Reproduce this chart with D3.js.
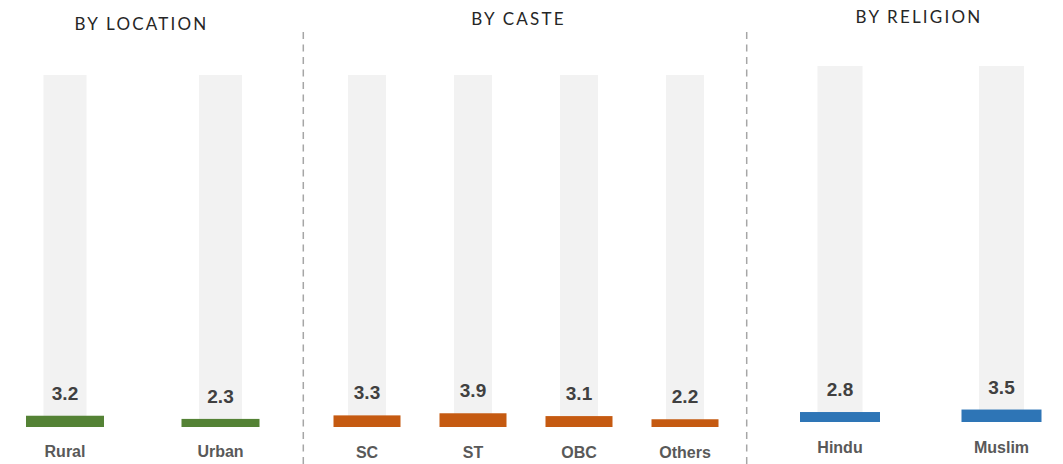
<!DOCTYPE html>
<html>
<head>
<meta charset="utf-8">
<script src="https://cdn.jsdelivr.net/npm/d3@7"></script>
<style>
  html, body { margin: 0; padding: 0; background: #fff; }
  svg { display: block; }
</style>
</head>
<body>
<svg id="chart" width="1063" height="464"></svg>
<script>
// ---- data ----
const locationCategories = ["Rural", "Urban"];
const locationValues = [3.2, 2.3];
const casteCategories = ["SC", "ST", "OBC", "Others"];
const casteValues = [3.3, 3.9, 3.1, 2.2];
const religionCategories = ["Hindu", "Muslim"];
const religionValues = [2.8, 3.5];
const panelTitles = ["BY LOCATION", "BY CASTE", "BY RELIGION"];
const maxValue = 100; // background bar (full scale)

const svg = d3.select("#chart");

const panels = [
  { title: panelTitles[0], cats: locationCategories, vals: locationValues, color: "#548235",
    xr: [65, 220.5], yr: [427, 75], bgW: 43, barW: 78, titleX: 141.5, titleY: 30, catY: 457 },
  { title: panelTitles[1], cats: casteCategories, vals: casteValues, color: "#c55a11",
    xr: [367, 685], yr: [427, 75], bgW: 38, barW: 67, titleX: 518.5, titleY: 25, catY: 458 },
  { title: panelTitles[2], cats: religionCategories, vals: religionValues, color: "#2e75b6",
    xr: [840, 1001.5], yr: [422, 66], bgW: 45, barW: 80, titleX: 919, titleY: 23, catY: 453 }
];

panels.forEach(p => {
  const x = d3.scalePoint().domain(p.cats).range(p.xr).padding(0);
  const y = d3.scaleLinear().domain([0, maxValue]).range(p.yr);
  const g = svg.append("g");
  const data = p.cats.map((c, i) => ({ c, v: p.vals[i] }));

  g.selectAll("rect.bg").data(data).enter().append("rect")
    .attr("class", "bg")
    .attr("x", d => x(d.c) - p.bgW / 2)
    .attr("width", p.bgW)
    .attr("y", y(maxValue))
    .attr("height", y(0) - y(maxValue))
    .attr("fill", "#f2f2f2");

  g.selectAll("rect.val").data(data).enter().append("rect")
    .attr("class", "val")
    .attr("x", d => x(d.c) - p.barW / 2)
    .attr("width", p.barW)
    .attr("y", d => y(d.v))
    .attr("height", d => y(0) - y(d.v))
    .attr("fill", p.color);

  g.selectAll("text.vl").data(data).enter().append("text")
    .attr("class", "vl")
    .attr("x", d => x(d.c))
    .attr("y", d => y(d.v) - 16)
    .attr("text-anchor", "middle")
    .attr("font-family", "'Liberation Sans', Arial, sans-serif")
    .attr("font-weight", "bold")
    .attr("font-size", 19)
    .attr("fill", "#404040")
    .text(d => d.v.toFixed(1));

  g.selectAll("text.cat").data(data).enter().append("text")
    .attr("class", "cat")
    .attr("x", d => x(d.c))
    .attr("y", p.catY)
    .attr("text-anchor", "middle")
    .attr("font-family", "'Liberation Sans', Arial, sans-serif")
    .attr("font-weight", "bold")
    .attr("font-size", 16)
    .attr("fill", "#595959")
    .text(d => d.c);

  g.append("text")
    .attr("x", p.titleX)
    .attr("y", p.titleY)
    .attr("text-anchor", "middle")
    .attr("font-family", "Lato, 'Open Sans', sans-serif")
    .attr("font-size", 17)
    .attr("letter-spacing", "2.2px")
    .attr("fill", "#262626")
    .text(p.title);
});

// dashed separators
[303.3, 746.7].forEach(xv => {
  svg.append("line")
    .attr("x1", xv).attr("x2", xv)
    .attr("y1", 32).attr("y2", 464)
    .attr("stroke", "#a6a6a6")
    .attr("stroke-width", 1.5)
    .attr("stroke-dasharray", "7,5.5");
});
</script>
</body>
</html>
